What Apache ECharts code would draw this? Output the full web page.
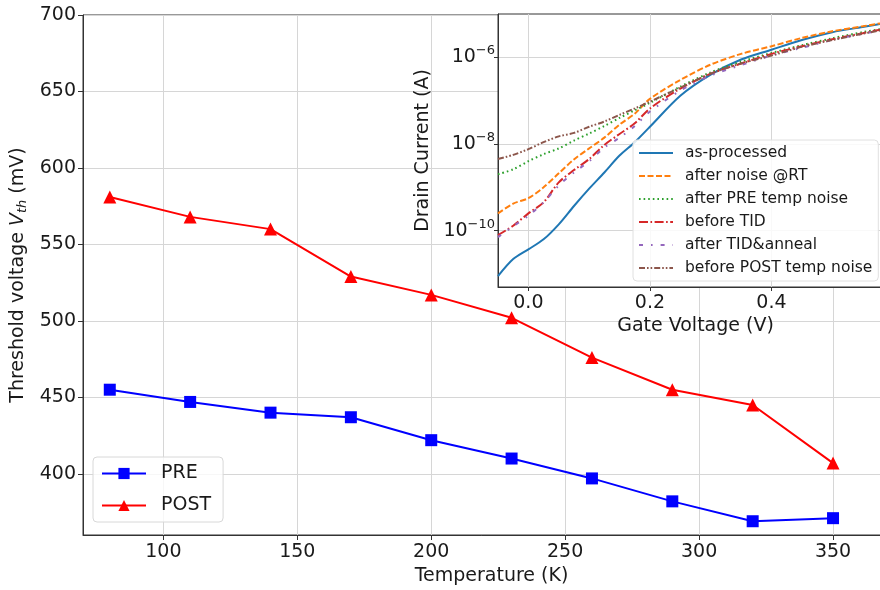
<!DOCTYPE html>
<html>
<head>
<meta charset="utf-8">
<script src="https://cdn.jsdelivr.net/npm/echarts@6/dist/echarts.min.js"></script>
<style>
html,body{margin:0;padding:0;background:#fff;overflow:hidden;}
#chart{width:880px;height:590px;}
</style>
</head>
<body>
<div id="chart"></div>
<script>
// ---- Main chart data ----
const temperature = [80, 110, 140, 170, 200, 230, 260, 290, 320, 350];
const preVth  = [455, 447, 440, 437, 422, 410, 397, 382, 369, 371];
const postVth = [581, 568, 560, 529, 517, 502, 476, 455, 445, 407];
const mainXTicks = [100, 150, 200, 250, 300, 350];
const mainYTicks = [400, 450, 500, 550, 600, 650, 700];

// ---- Inset data (Drain current vs gate voltage) ----
const gateV = [-0.05, -0.025, 0, 0.025, 0.05, 0.075, 0.1, 0.125, 0.15, 0.175, 0.2, 0.25, 0.3, 0.35, 0.4, 0.45, 0.5, 0.55, 0.6];
const asProcessed   = [8.9e-12, 2.2e-11, 3.7e-11, 6.3e-11, 1.4e-10, 3.7e-10, 9.3e-10, 2.2e-9, 5.4e-9, 1.1e-8, 2.5e-8, 1.3e-7, 4.0e-7, 8.9e-7, 1.5e-6, 2.5e-6, 3.8e-6, 5.0e-6, 6.6e-6];
const afterNoiseRT  = [2.5e-10, 4.2e-10, 5.6e-10, 1.0e-9, 2.1e-9, 4.4e-9, 7.9e-9, 1.4e-8, 2.8e-8, 5.0e-8, 1.1e-7, 3.0e-7, 6.8e-7, 1.2e-6, 1.8e-6, 2.8e-6, 4.0e-6, 5.2e-6, 6.8e-6];
const afterPreTemp  = [2.0e-9, 2.6e-9, 4.0e-9, 5.8e-9, 7.9e-9, 1.2e-8, 1.74e-8, 2.6e-8, 4.0e-8, 6.0e-8, 8.9e-8, 2.1e-7, 4.5e-7, 7.9e-7, 1.26e-6, 1.9e-6, 2.75e-6, 3.8e-6, 5.0e-6];
const beforeTID     = [7.9e-11, 1.3e-10, 2.5e-10, 4.5e-10, 1.3e-9, 2.5e-9, 4.5e-9, 9.5e-9, 1.7e-8, 3.0e-8, 6.6e-8, 1.9e-7, 4.2e-7, 7.2e-7, 1.2e-6, 1.8e-6, 2.6e-6, 3.6e-6, 5.0e-6];
const afterTIDAnneal= [7.1e-11, 1.26e-10, 2.2e-10, 4.5e-10, 1.1e-9, 2.2e-9, 4.0e-9, 8.3e-9, 1.4e-8, 2.6e-8, 5.6e-8, 1.7e-7, 3.8e-7, 6.6e-7, 1.1e-6, 1.66e-6, 2.5e-6, 3.5e-6, 4.7e-6];
const beforePostTemp= [4.5e-9, 5.6e-9, 7.6e-9, 1.1e-8, 1.5e-8, 1.8e-8, 2.5e-8, 3.3e-8, 4.7e-8, 6.6e-8, 9.5e-8, 2.0e-7, 4.2e-7, 7.2e-7, 1.1e-6, 1.74e-6, 2.5e-6, 3.5e-6, 4.7e-6];
const insetXTicks = [0, 0.2, 0.4];
const insetYTicks = [1e-10, 1e-8, 1e-6];
const insetNames = ['as-processed', 'after noise @RT', 'after PRE temp noise', 'before TID', 'after TID&anneal', 'before POST temp noise'];

const pair = (xs, ys) => xs.map((x, i) => [x, ys[i]]);
const FONT = 'DejaVu Sans';
const TXT = '#1a1a1a';
const GRIDC = '#d6d6d6';
const AXC = '#333333';

const chart = echarts.init(document.getElementById('chart'), null, {renderer: 'canvas'});

const insetSeriesDefs = [
  {name: insetNames[0], data: asProcessed,    color: '#1f77b4', type: 'solid'},
  {name: insetNames[1], data: afterNoiseRT,   color: '#ff7f0e', type: [6, 2.5]},
  {name: insetNames[2], data: afterPreTemp,   color: '#2ca02c', type: [1.6, 3]},
  {name: insetNames[3], data: beforeTID,      color: '#d62728', type: [9, 2.5, 1.6, 2.5]},
  {name: insetNames[4], data: afterTIDAnneal, color: '#9467bd', type: [4, 8, 1.6, 8]},
  {name: insetNames[5], data: beforePostTemp, color: '#8c564b', type: [6, 2, 1.6, 2, 1.6, 2]}
];

const option = {
  backgroundColor: '#fff',
  animation: false,
  textStyle: {fontFamily: FONT, color: TXT},
  grid: [
    {left: 83, top: 15, width: 817, height: 520, outerBoundsMode: 'none', containLabel: false,
     show: true, borderColor: AXC, borderWidth: 1, backgroundColor: 'transparent', z: 0},
    {left: 498, top: 14, width: 395, height: 273, outerBoundsMode: 'none', containLabel: false,
     show: true, borderColor: AXC, borderWidth: 1, backgroundColor: '#ffffff', z: 4}
  ],
  legend: [
    {
      data: ['PRE', 'POST'], orient: 'vertical', left: 93, top: 457,
      itemWidth: 44, itemHeight: 14, itemGap: 13,
      padding: [7, 12, 7, 8],
      backgroundColor: 'rgba(255,255,255,0.8)', borderColor: '#d8d8d8', borderWidth: 1, borderRadius: 4,
      textStyle: {fontFamily: FONT, fontSize: 19, color: TXT, padding: [0, 0, 0, 10]},
      z: 8
    },
    {
      data: insetNames, orient: 'vertical', left: 633, top: 140,
      itemWidth: 34, itemHeight: 12, itemGap: 7,
      padding: [5, 6, 5, 5],
      itemStyle: {opacity: 0},
      backgroundColor: 'rgba(255,255,255,0.85)', borderColor: '#e0e0e0', borderWidth: 1, borderRadius: 4,
      textStyle: {fontFamily: FONT, fontSize: 15.5, color: TXT, padding: [0, 0, 0, 7]},
      z: 8
    }
  ],
  xAxis: [
    {
      gridIndex: 0, type: 'value', min: 70, max: 375,
      name: 'Temperature (K)', nameLocation: 'middle', nameGap: 28,
      nameTextStyle: {fontFamily: FONT, fontSize: 19, color: TXT},
      axisLine: {show: true, onZero: false, lineStyle: {color: AXC, width: 1}},
      axisTick: {show: true, length: 5, lineStyle: {color: AXC}, customValues: mainXTicks},
      axisLabel: {fontFamily: FONT, fontSize: 19, color: TXT, margin: 8, customValues: mainXTicks},
      splitLine: {show: true, lineStyle: {color: GRIDC, width: 1}},
      z: 0
    },
    {
      gridIndex: 1, type: 'value', min: -0.05, max: 0.6,
      name: 'Gate Voltage (V)', nameLocation: 'middle', nameGap: 30,
      nameTextStyle: {fontFamily: FONT, fontSize: 19, color: TXT},
      axisLine: {show: true, onZero: false, lineStyle: {color: AXC, width: 1}},
      axisTick: {show: true, length: 4, lineStyle: {color: AXC}, customValues: insetXTicks},
      axisLabel: {fontFamily: FONT, fontSize: 19, color: TXT, margin: 7, customValues: insetXTicks,
        formatter: v => v.toFixed(1)},
      splitLine: {show: true, lineStyle: {color: GRIDC, width: 1}},
      z: 5
    }
  ],
  yAxis: [
    {
      gridIndex: 0, type: 'value', min: 360, max: 700,
      name: '{n|Threshold voltage }{i|V}{s|th}{n| (mV)}', nameLocation: 'middle', nameGap: 46,
      nameTextStyle: {
        fontFamily: FONT, fontSize: 19, color: TXT,
        rich: {
          n: {fontFamily: FONT, fontSize: 19, color: TXT},
          i: {fontFamily: FONT, fontSize: 19, color: TXT, fontStyle: 'italic'},
          s: {fontFamily: FONT, fontSize: 13, color: TXT, fontStyle: 'italic', padding: [9, 0, 0, 0]}
        }
      },
      axisLine: {show: true, onZero: false, lineStyle: {color: AXC, width: 1}},
      axisTick: {show: true, length: 5, lineStyle: {color: AXC}, customValues: mainYTicks},
      axisLabel: {fontFamily: FONT, fontSize: 19, color: TXT, margin: 7, customValues: mainYTicks},
      splitLine: {show: true, lineStyle: {color: GRIDC, width: 1}},
      z: 0
    },
    {
      gridIndex: 1, type: 'log', logBase: 10, min: 5e-12, max: 1e-5,
      name: 'Drain Current (A)', nameLocation: 'middle', nameGap: 65,
      nameTextStyle: {fontFamily: FONT, fontSize: 19, color: TXT},
      axisLine: {show: true, onZero: false, lineStyle: {color: AXC, width: 1}},
      axisTick: {show: true, length: 4, lineStyle: {color: AXC}, customValues: insetYTicks},
      axisLabel: {
        fontFamily: FONT, color: TXT, margin: 3, customValues: insetYTicks,
        formatter: v => {
          const e = Math.round(Math.log10(v));
          return '{b|10}{s|\u2212' + Math.abs(e) + '}';
        },
        rich: {
          b: {fontFamily: FONT, fontSize: 19, color: TXT},
          s: {fontFamily: FONT, fontSize: 13, color: TXT, padding: [0, 0, 13, 0]}
        }
      },
      splitLine: {show: true, lineStyle: {color: GRIDC, width: 1}},
      z: 5
    }
  ],
  series: [
    {
      name: 'PRE', type: 'line', xAxisIndex: 0, yAxisIndex: 0,
      data: pair(temperature, preVth),
      symbol: 'rect', symbolSize: 12,
      lineStyle: {color: '#0000ff', width: 2}, itemStyle: {color: '#0000ff'},
      z: 2
    },
    {
      name: 'POST', type: 'line', xAxisIndex: 0, yAxisIndex: 0,
      data: pair(temperature, postVth),
      symbol: 'triangle', symbolSize: 13,
      lineStyle: {color: '#ff0000', width: 2}, itemStyle: {color: '#ff0000'},
      z: 2
    }
  ].concat(insetSeriesDefs.map(d => ({
    name: d.name, type: 'line', xAxisIndex: 1, yAxisIndex: 1,
    data: pair(gateV, d.data), symbol: 'none', smooth: 0.3,
    lineStyle: {color: d.color, width: 2, type: d.type}, itemStyle: {color: d.color},
    z: 6
  })))
};
chart.setOption(option);
</script>
</body>
</html>
